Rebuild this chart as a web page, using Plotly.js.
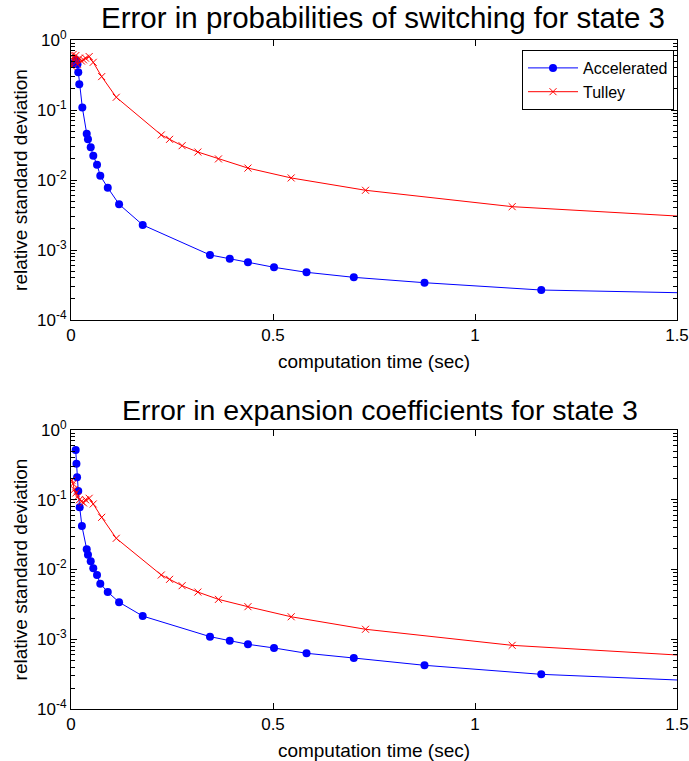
<!DOCTYPE html>
<html>
<head>
<meta charset="utf-8">
<script src="https://cdn.plot.ly/plotly-3.0.1.min.js"></script>
<style>html,body{margin:0;padding:0;background:#fff;}#chart{width:689px;height:761px;}</style>
</head>
<body>
<div id="chart"></div>
<script>
// ---- Data ----
// Top panel: probabilities of switching
const accTopX = [0.006, 0.012, 0.016, 0.018, 0.0205, 0.028, 0.0389, 0.042, 0.0488, 0.0552, 0.0644, 0.0725, 0.091, 0.119, 0.1775, 0.344, 0.393, 0.438, 0.5025, 0.583, 0.700, 0.875, 1.164, 1.75];
const accTopY = [0.47, 0.52, 0.45, 0.346, 0.233, 0.109, 0.0459, 0.0381, 0.0293, 0.0222, 0.0165, 0.0115, 0.00776, 0.0045, 0.00228, 0.00085, 0.00075, 0.000667, 0.000566, 0.00048, 0.000407, 0.000341, 0.000268, 0.00023];
const tulTopX = [0.002, 0.005, 0.008, 0.012, 0.016, 0.021, 0.026, 0.031, 0.036, 0.045, 0.055, 0.076, 0.112, 0.2235, 0.244, 0.275, 0.314, 0.365, 0.438, 0.545, 0.729, 1.092, 1.64];
const tulTopY = [0.42, 0.62, 0.5, 0.6, 0.45, 0.55, 0.5, 0.52, 0.55, 0.58, 0.48, 0.30, 0.152, 0.044, 0.0381, 0.0309, 0.0251, 0.020, 0.0148, 0.0107, 0.00713, 0.00416, 0.00275];
// Bottom panel: expansion coefficients
const accBotX = [0.0116, 0.0135, 0.015, 0.018, 0.0215, 0.027, 0.0389, 0.042, 0.0488, 0.0552, 0.0644, 0.0725, 0.091, 0.119, 0.1775, 0.344, 0.393, 0.438, 0.5025, 0.583, 0.700, 0.875, 1.164, 1.75];
const accBotY = [0.517, 0.329, 0.21, 0.133, 0.078, 0.042, 0.0195, 0.0163, 0.0131, 0.0104, 0.00834, 0.00626, 0.00475, 0.0034, 0.00215, 0.00109, 0.000954, 0.000846, 0.00075, 0.000629, 0.000538, 0.000423, 0.000314, 0.000227];
const tulBotX = [0.002, 0.005, 0.008, 0.012, 0.016, 0.021, 0.026, 0.031, 0.036, 0.045, 0.055, 0.076, 0.112, 0.2235, 0.244, 0.275, 0.314, 0.365, 0.438, 0.545, 0.729, 1.092, 1.64];
const tulBotY = [0.19, 0.17, 0.14, 0.125, 0.11, 0.10, 0.095, 0.09, 0.10, 0.105, 0.087, 0.056, 0.028, 0.00834, 0.00723, 0.00586, 0.00475, 0.00373, 0.00293, 0.0021, 0.00139, 0.000818, 0.000533];

const seriesNames = ['Accelerated', 'Tulley'];
const xTickVals = [0, 0.5, 1, 1.5];
const xTickText = ['0', '0.5', '1', '1.5'];
const yTickVals = [1, 0.1, 0.01, 0.001, 0.0001];
const yTickText = ['10<sup>0</sup>', '10<sup>-1</sup>', '10<sup>-2</sup>', '10<sup>-3</sup>', '10<sup>-4</sup>'];
const panelTitles = ['Error in probabilities of switching for state 3', 'Error in expansion coefficients for state 3'];
const xTitle = 'computation time (sec)';
const yTitle = 'relative standard deviation';

// ---- Styling ----
const FONT = 'Liberation Sans, Arial, sans-serif';
const blue = '#0000ff', red = '#ff0000';
const W = 689, H = 761;
const xDom = [71 / W, 677 / W];
const topDom = [(H - 320) / H, (H - 40) / H];
const botDom = [(H - 709) / H, (H - 430) / H];

function accTrace(x, y, xa, ya, show) {
  return {x: x, y: y, xaxis: xa, yaxis: ya, type: 'scatter', mode: 'lines+markers', name: seriesNames[0],
    showlegend: show, line: {color: blue, width: 1}, marker: {color: blue, size: 8, symbol: 'circle'}, cliponaxis: true};
}
function tulTrace(x, y, xa, ya, show) {
  return {x: x, y: y, xaxis: xa, yaxis: ya, type: 'scatter', mode: 'lines+markers', name: seriesNames[1],
    showlegend: show, line: {color: red, width: 1}, marker: {color: red, size: 7, symbol: 'x-thin-open', line: {color: red, width: 1}}, cliponaxis: true};
}
function emptyTrace(xa, ya) {
  return {x: [0.75], y: [0.01], xaxis: xa, yaxis: ya, type: 'scatter', mode: 'markers', opacity: 0, showlegend: false, hoverinfo: 'skip'};
}

const traces = [
  accTrace(accTopX, accTopY, 'x', 'y', true),
  tulTrace(tulTopX, tulTopY, 'x', 'y', true),
  accTrace(accBotX, accBotY, 'x2', 'y2', false),
  tulTrace(tulBotX, tulBotY, 'x2', 'y2', false),
  emptyTrace('x', 'y3'),
  emptyTrace('x2', 'y4')
];

function xAxis(anchor) {
  return {domain: xDom, anchor: anchor, range: [0, 1.5], tickvals: xTickVals, ticktext: xTickText,
    ticks: 'inside', ticklen: 6, tickcolor: '#000', showline: true, linecolor: '#000', linewidth: 1, mirror: 'ticks',
    showgrid: false, zeroline: false, tickfont: {family: FONT, size: 17, color: '#000'},
    title: {text: xTitle, font: {family: FONT, size: 19, color: '#000'}, standoff: 10}};
}
function yAxis(anchor, dom) {
  return {domain: dom, anchor: anchor, type: 'log', range: [-4, 0], tickvals: yTickVals, ticktext: yTickText,
    ticks: 'inside', ticklen: 6, tickcolor: '#000', showline: true, linecolor: '#000', linewidth: 1, mirror: 'ticks',
    showgrid: false, zeroline: false, tickfont: {family: FONT, size: 17, color: '#000'},
    title: {text: yTitle, font: {family: FONT, size: 19, color: '#000'}, standoff: 4}};
}
// overlay axis used only to draw the log minor ticks (2..9 in each decade)
function minorAxis(anchor, over, dom) {
  return {domain: dom, anchor: anchor, overlaying: over, side: 'left', type: 'log', range: [-4, 0],
    tickmode: 'linear', dtick: 'D1', ticks: 'inside', ticklen: 4, tickwidth: 1, tickcolor: '#000',
    showticklabels: false, showline: false, mirror: 'allticks',
    showgrid: false, zeroline: false};
}

const layout = {
  width: W, height: H,
  margin: {l: 0, r: 0, t: 0, b: 0},
  paper_bgcolor: '#fff', plot_bgcolor: 'rgba(0,0,0,0)',
  font: {family: FONT, color: '#000'},
  xaxis: xAxis('y'), yaxis: yAxis('x', topDom),
  xaxis2: xAxis('y2'), yaxis2: yAxis('x2', botDom),
  yaxis3: minorAxis('x', 'y', topDom),
  yaxis4: minorAxis('x2', 'y2', botDom),
  showlegend: true,
  legend: {x: 674 / W, xanchor: 'right', y: (H - 50) / H, yanchor: 'top', bgcolor: '#fff', bordercolor: '#000', borderwidth: 1,
    font: {family: FONT, size: 16, color: '#000'}, tracegroupgap: 0, itemwidth: 50},
  annotations: [
    {text: panelTitles[0], xref: 'paper', yref: 'paper', x: 383 / W, y: (H - 18) / H, xanchor: 'center', yanchor: 'middle', showarrow: false,
      font: {family: FONT, size: 29.5, color: '#000'}},
    {text: panelTitles[1], xref: 'paper', yref: 'paper', x: 380 / W, y: (H - 410) / H, xanchor: 'center', yanchor: 'middle', showarrow: false,
      font: {family: FONT, size: 28.5, color: '#000'}}
  ]
};

Plotly.newPlot('chart', traces, layout, {staticPlot: true, displayModeBar: false});
</script>
</body>
</html>
